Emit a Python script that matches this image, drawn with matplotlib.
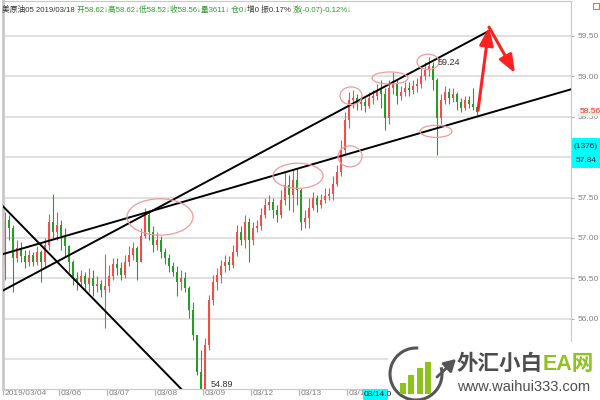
import matplotlib
matplotlib.use("Agg")
import matplotlib.pyplot as plt
import matplotlib.transforms as mtransforms
from matplotlib.patches import Ellipse, Rectangle, Arc, FancyArrowPatch
import numpy as np

plt.rcParams['font.family'] = ['Liberation Sans', 'Noto Sans CJK SC', 'DejaVu Sans']

# candles, 美原油05 (open of each bar = close of the one before)
first_open = 56.67
close = [57.22, 57.12, 56.75, 56.88, 56.78, 56.70, 56.79, 56.70, 56.83, 56.70,
         56.91, 57.20, 57.07, 57.16, 57.02, 56.90, 56.70, 56.50, 56.46, 56.53,
         56.43, 56.50, 56.41, 56.43, 56.36, 56.41, 56.53, 56.68, 56.63, 56.54,
         56.70, 56.79, 56.88, 56.70, 57.02, 57.28, 57.07, 56.91, 56.98, 56.83,
         56.75, 56.65, 56.58, 56.46, 56.50, 56.38, 56.11, 55.80, 55.34, 55.06,
         55.68, 56.23, 56.46, 56.54, 56.65, 56.70, 56.67, 56.83, 57.07, 56.98,
         57.20, 56.98, 57.12, 57.15, 57.28, 57.41, 57.45, 57.35, 57.28, 57.47,
         57.66, 57.53, 57.72, 57.59, 57.20, 57.25, 57.37, 57.50, 57.41, 57.47,
         57.52, 57.54, 57.67, 57.82, 58.09, 58.46, 58.71, 58.73, 58.66, 58.68,
         58.63, 58.73, 58.76, 58.83, 58.78, 58.49, 58.86, 58.91, 58.76, 58.81,
         58.86, 58.83, 58.88, 58.91, 59.00, 59.08, 59.13, 58.96, 58.49, 58.71,
         58.81, 58.73, 58.78, 58.68, 58.61, 58.71, 58.66, 58.62, 58.56]
high = [57.32, 57.28, 57.16, 56.98, 56.95, 56.85, 56.85, 56.83, 56.90, 56.85,
        57.00, 57.30, 57.54, 57.32, 57.22, 57.12, 56.91, 56.73, 56.58, 56.60,
        56.58, 56.63, 56.60, 56.53, 56.48, 56.80, 56.67, 56.75, 56.75, 56.70,
        56.79, 56.90, 56.95, 56.90, 57.12, 57.37, 57.32, 57.15, 57.07, 57.02,
        56.88, 56.80, 56.70, 56.65, 56.60, 56.58, 56.41, 56.21, 55.79, 55.61,
        55.76, 56.29, 56.54, 56.63, 56.73, 56.79, 56.78, 56.91, 57.16, 57.15,
        57.28, 57.25, 57.20, 57.22, 57.37, 57.50, 57.53, 57.50, 57.41, 57.59,
        57.82, 57.78, 57.84, 57.87, 57.62, 57.35, 57.50, 57.57, 57.53, 57.54,
        57.62, 57.62, 57.77, 57.90, 58.21, 58.56, 58.81, 58.83, 58.78, 58.76,
        58.73, 58.81, 58.83, 58.91, 58.96, 58.86, 58.96, 59.05, 58.96, 58.88,
        58.93, 58.93, 58.96, 58.98, 59.10, 59.18, 59.24, 59.18, 58.98, 58.78,
        58.88, 58.86, 58.86, 58.81, 58.73, 58.76, 58.76, 58.86, 58.62]
low = [56.48, 56.98, 56.33, 56.70, 56.70, 56.63, 56.65, 56.65, 56.67, 56.46,
       56.63, 56.85, 57.00, 56.98, 56.85, 56.78, 56.58, 56.42, 56.36, 56.39,
       56.36, 56.33, 56.28, 56.33, 56.27, 55.89, 56.33, 56.48, 56.54, 56.48,
       56.50, 56.65, 56.73, 56.48, 56.70, 57.00, 56.98, 56.83, 56.85, 56.75,
       56.68, 56.58, 56.53, 56.28, 56.36, 56.33, 56.01, 55.74, 55.30, 54.89,
       55.00, 55.61, 56.17, 56.36, 56.44, 56.58, 56.60, 56.63, 56.78, 56.91,
       56.88, 56.70, 56.91, 57.07, 57.10, 57.25, 57.35, 57.25, 57.20, 57.25,
       57.41, 57.35, 57.32, 57.41, 57.10, 57.12, 57.12, 57.35, 57.32, 57.37,
       57.43, 57.47, 57.47, 57.64, 57.77, 58.03, 58.36, 58.61, 58.58, 58.58,
       58.56, 58.61, 58.66, 58.71, 58.61, 58.34, 58.41, 58.78, 58.66, 58.71,
       58.76, 58.76, 58.78, 58.81, 58.86, 58.96, 59.00, 58.83, 58.03, 58.41,
       58.66, 58.66, 58.68, 58.58, 58.56, 58.58, 58.61, 58.58, 58.52]

day_start = [0, 14, 26, 38, 50, 62, 74, 86]
day_labels = ["2019/03/04", "03/06", "03/07", "03/08", "03/09", "03/12", "03/13", "03/1"]
price_ticks = [55.5, 56.0, 56.5, 57.0, 57.5, 58.0, 58.5, 59.0, 59.5]
hidden_ticks = [55.5, 58.0]   # covered by the watermark / cursor box

# hand drawn lines / circles / arrows, in (bar index, price)
trend_lines = [((-1.25, 56.33), (121.25, 59.57)),
               ((-1.25, 56.79), (141.5, 58.84)),
               ((-1.25, 57.43), (46.25, 55.02))]
circles = [(38.75, 57.26, 16.5, 0.45), (73.25, 57.77, 12.5, 0.31),
           (86.25, 58.01, 6.0, 0.26), (86.5, 58.76, 5.5, 0.22),
           (96.25, 58.98, 9.0, 0.15), (105.75, 59.18, 5.5, 0.19),
           (107.75, 58.32, 8.0, 0.15)]
arrow_path = [(118.25, 58.58), (121.0, 59.61), (127.5, 59.04)]

up_col = '#f24c4c'
dn_col = '#2a9a2a'

fig = plt.figure(figsize=(6, 4), dpi=100)
ax = fig.add_axes([3 / 600, 11 / 400, 568 / 600, 388 / 400])

x = np.arange(len(close))
c = np.array(close)
o = np.array([first_open] + close[:-1])
hi = np.maximum(np.array(high), np.maximum(o, c))
lo = np.minimum(np.array(low), np.minimum(o, c))
cols = np.where(c >= o, up_col, dn_col)
ax.vlines(x, lo, hi, colors=cols, lw=0.8, zorder=2)
ax.bar(x, np.maximum(np.abs(c - o), 0.01), bottom=np.minimum(o, c), width=0.55,
       color=cols, linewidth=0, zorder=2)

ax.set_xlim(-0.5, 141.5)
ax.set_ylim(55.131, 59.933)

for (x0, y0), (x1, y1) in trend_lines:
    ax.plot([x0, x1], [y0, y1], color='black', lw=1.4, zorder=3)
for cx, cy, w, h in circles:
    ax.add_patch(Ellipse((cx, cy), w, h, fill=False, ec='#f29a9a', lw=0.9, zorder=3))
for p0, p1 in zip(arrow_path[:-1], arrow_path[1:]):
    ax.add_patch(FancyArrowPatch(p0, p1, arrowstyle='-|>,head_length=0.9,head_width=0.35',
                                 mutation_scale=12, color='#ff2020', lw=2.2, zorder=4,
                                 shrinkA=0, shrinkB=0))

imax = int(np.argmax(hi))
imin = int(np.argmin(lo))
ax.annotate(f"{hi[imax]:.2f}", xy=(imax, hi[imax]), xytext=(6.5, -4.3),
            textcoords='offset points', va='center', ha='left', fontsize=6.5, color='#333333')
ax.annotate(f"{lo[imin]:.2f}", xy=(imin, max(lo[imin], ax.get_ylim()[0])), xytext=(7.2, 2.9),
            textcoords='offset points', va='center', ha='left', fontsize=6.5, color='#333333')

# axes styling
ax.grid(axis='y', color='#dedede', lw=1.3)
ax.set_axisbelow(True)
for s in ax.spines.values():
    s.set_color('#c8c8c8')
ax.spines['left'].set_linewidth(2)
ax.yaxis.tick_right()
ax.set_yticks(price_ticks)
ax.set_yticklabels(["" if v in hidden_ticks else f"{v:.2f}" for v in price_ticks])
ax.tick_params(axis='y', length=2.5, pad=2.5, color='#b0b0b0', labelcolor='#808080', labelsize=6)
ax.set_xticks([d - 0.5 for d in day_start])
ax.set_xticklabels(day_labels, ha='left')
ax.tick_params(axis='x', length=4.5, pad=-3.5, color='#b0b0b0', labelcolor='#808080', labelsize=6)
shift = mtransforms.ScaledTranslation(1.5 / 100, 0, fig.dpi_scale_trans)
for lab in ax.get_xticklabels():
    lab.set_transform(lab.get_transform() + shift)

last_tr = mtransforms.blended_transform_factory(ax.transAxes, ax.transData)
ax.annotate(f"{close[-1]:.2f}", xy=(1, close[-1]), xycoords=last_tr, xytext=(6, 0),
            textcoords='offset points', va='center', ha='left', fontsize=6, color='#ff3030',
            bbox=dict(boxstyle='round,pad=0.1', fc='#e2f2e2', ec='none'), annotation_clip=False)

# overlay in pixel coordinates for the header, cursor boxes and the watermark
ov = fig.add_axes([0, 0, 1, 1], zorder=5)
ov.set_xlim(0, 600)
ov.set_ylim(400, 0)
ov.axis('off')
ov.patch.set_alpha(0)


def chain(parts, x0, y0, **kw):
    t = ov.text(x0, y0, parts[0][0], color=parts[0][1], va='center', ha='left', **kw)
    for s, col in parts[1:]:
        t = ov.annotate(s, xy=(1, 0.5), xycoords=t, va='center', ha='left', color=col, **kw)
    return t


dark = '#333333'
green = '#2e9a2e'
chain([("美原油05 2019/03/18 ", dark),
       ("开58.62↓高58.62↓低58.52↓收58.56↓量3611↓ 仓0↓", green),
       ("增0 振0.17% ", dark),
       ("涨(-0.07)-0.12%↓", green)], 2, 10, fontsize=5.6)
ov.add_patch(Rectangle((593, 3), 6, 6, fill=False, ec='#f07030', lw=0.8))

ov.add_patch(Rectangle((572, 138), 28, 30, fc='#00ffff', ec='none'))
ov.text(586, 146, "(1376)", ha='center', va='center', fontsize=6, color='#202020')
ov.text(586, 160, "57.84", ha='center', va='center', fontsize=6, color='#202020')
ov.add_patch(Rectangle((363, 389), 27, 11, fc='#00ffff', ec='none'))
ov.text(364, 395, "03/14.0", ha='left', va='center', fontsize=6, color='#202020')

# watermark
ov.add_patch(Rectangle((388, 342), 212, 58, fc='white', ec='none'))
ov.add_patch(Arc((416, 374), 52, 52, theta1=-15, theta2=275, color='#555555', lw=2.2))
ov.add_patch(FancyArrowPatch((437, 377), (456, 359), arrowstyle='-|>,head_length=0.7,head_width=0.4',
                             mutation_scale=10, color='#555555', lw=2, shrinkA=0, shrinkB=0))
for bx, top in zip([400, 408, 417, 425], [383, 375, 368, 362]):
    ov.add_patch(Rectangle((bx, top), 6, 394 - top, fc='#8dc21f', ec='none'))
chain([("外汇小白", '#4d4d4d'), ("EA网", '#8dc21f')], 457, 364, fontsize=15.5, fontweight='bold')
ov.text(457, 387, "www.waihui333.com", ha='left', va='center', fontsize=10.5, color='#4d4d4d')

fig.savefig('out.png', dpi=100)
